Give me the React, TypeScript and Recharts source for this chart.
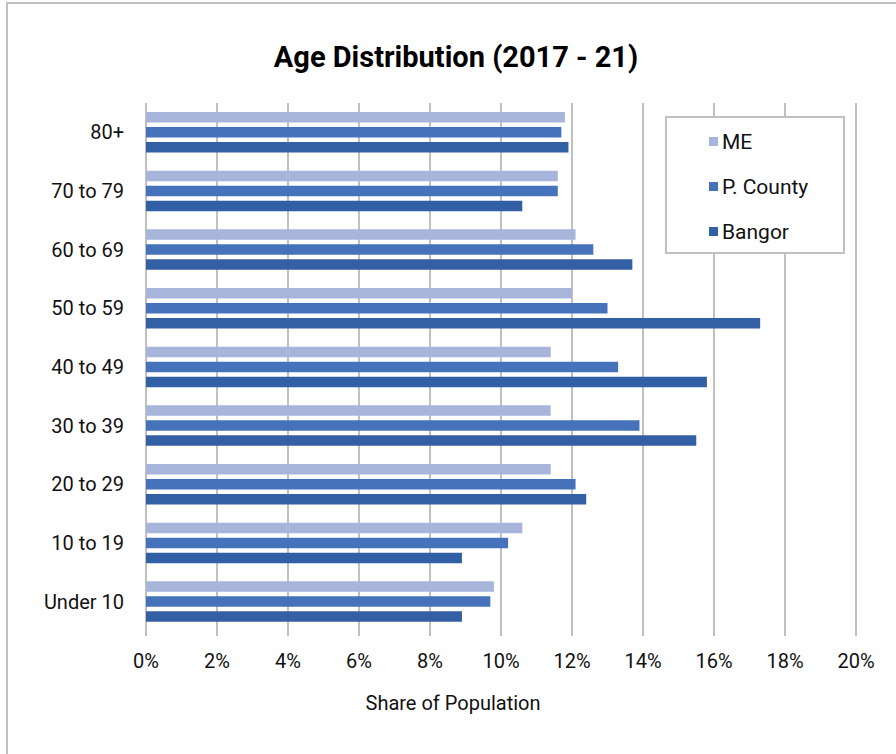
import { BarChart, Bar, XAxis, YAxis, CartesianGrid, Legend } from 'recharts';

const ageGroups = ['80+', '70 to 79', '60 to 69', '50 to 59', '40 to 49', '30 to 39', '20 to 29', '10 to 19', 'Under 10'];
const meShare = [11.8, 11.6, 12.1, 12.0, 11.4, 11.4, 11.4, 10.6, 9.8];
const countyShare = [11.7, 11.6, 12.6, 13.0, 13.3, 13.9, 12.1, 10.2, 9.7];
const bangorShare = [11.9, 10.6, 13.7, 17.3, 15.8, 15.5, 12.4, 8.9, 8.9];
const seriesNames = ['ME', 'P. County', 'Bangor'];
const xTicks = [0, 2, 4, 6, 8, 10, 12, 14, 16, 18, 20];

const data = ageGroups.map((age, i) => ({
  age,
  me: meShare[i],
  county: countyShare[i],
  bangor: bangorShare[i],
}));

const FONT = 'Roboto, "Open Sans", sans-serif';
const GRID = '#c0c0c0';

function LegendBox(props: any) {
  const items = [...(props.payload || [])].sort(
    (a: any, b: any) => seriesNames.indexOf(a.value) - seriesNames.indexOf(b.value)
  );
  return (
    <div
      style={{
        width: 176,
        height: 124,
        border: `2px solid ${GRID}`,
        background: '#fff',
        boxSizing: 'content-box',
        paddingTop: 1,
        paddingBottom: 9,
      }}
    >
      {items.map((item: any) => (
        <div
          key={item.value}
          style={{ display: 'flex', alignItems: 'center', height: 45, paddingLeft: 42, fontFamily: FONT, fontSize: 21, color: '#111' }}
        >
          <span style={{ width: 9, height: 9, background: item.color, marginRight: 4, display: 'inline-block' }} />
          {item.value}
        </div>
      ))}
    </div>
  );
}

export default function App() {
  return (
    <div style={{ position: 'relative', width: 896, height: 754, background: '#fff', overflow: 'hidden' }}>
      <style>{'body{margin:0}'}</style>
      <div style={{ position: 'absolute', left: 6, top: 2, width: 1000, height: 1000, borderLeft: `2px solid ${GRID}`, borderTop: `2px solid ${GRID}` }} />
      <div
        style={{ position: 'absolute', left: 0, width: 912, top: 40, textAlign: 'center', fontFamily: FONT, fontWeight: 700, fontSize: 29, color: '#000' }}
      >
        Age Distribution (2017 - 21)
      </div>
      <div
        style={{ position: 'absolute', left: 0, width: 906, top: 691, textAlign: 'center', fontFamily: FONT, fontSize: 20, color: '#111' }}
      >
        Share of Population
      </div>
      <div style={{ position: 'absolute', left: 0, top: 0 }}>
        <BarChart
          width={896}
          height={754}
          data={data}
          layout="vertical"
          margin={{ top: 103, right: 40, bottom: 76, left: 0 }}
          barSize={10.5}
          barGap={4.5}
        >
          <CartesianGrid horizontal={false} vertical stroke={GRID} strokeWidth={2} />
          <XAxis
            type="number"
            domain={[0, 20]}
            ticks={xTicks}
            interval={0}
            tickFormatter={(v) => `${v}%`}
            axisLine={false}
            tickLine={{ stroke: GRID, strokeWidth: 2 }}
            tickSize={5}
            tick={{ fill: '#111', fontSize: 20, fontFamily: FONT }}
            tickMargin={18}
            height={47}
          />
          <YAxis
            type="category"
            dataKey="age"
            width={146}
            axisLine={false}
            tickLine={false}
            tickSize={0}
            tickMargin={22}
            tick={{ fill: '#111', fontSize: 20, fontFamily: FONT }}
          />
          <Legend
            layout="horizontal"
            verticalAlign="middle"
            align="center"
            itemSorter={(item: any) => seriesNames.indexOf(item.value)}
            content={<LegendBox />}
            wrapperStyle={{ position: 'absolute', left: 665, top: 116, width: 180, height: 136 }}
          />
          <Bar dataKey="me" name="ME" fill="#a7b5da" isAnimationActive={false} />
          <Bar dataKey="county" name="P. County" fill="#4672bb" isAnimationActive={false} />
          <Bar dataKey="bangor" name="Bangor" fill="#335fa4" isAnimationActive={false} />
        </BarChart>
      </div>
    </div>
  );
}
